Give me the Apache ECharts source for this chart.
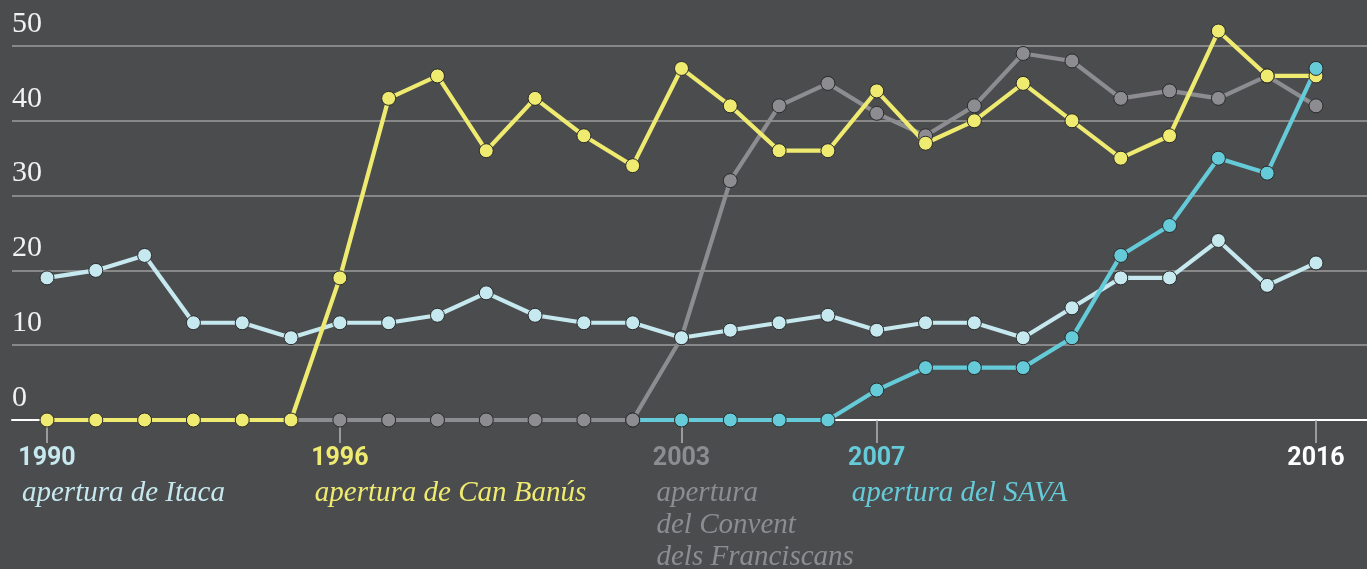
<!DOCTYPE html>
<html><head><meta charset="utf-8">
<script src="https://cdn.jsdelivr.net/npm/echarts@6/dist/echarts.min.js"></script>
<style>html,body{margin:0;padding:0;background:#4b4c4e;}#c{width:1367px;height:569px;}</style>
</head><body><div id="c"></div>
<script>
const years = [1990,1991,1992,1993,1994,1995,1996,1997,1998,1999,2000,2001,2002,2003,2004,2005,2006,2007,2008,2009,2010,2011,2012,2013,2014,2015,2016];
const itaca    = [19,20,22,13,13,11,13,13,14,17,14,13,13,11,12,13,14,12,13,13,11,15,19,19,24,18,21];
const canBanus = [0,0,0,0,0,0,19,43,46,36,43,38,34,47,42,36,36,44,37,40,45,40,35,38,52,46,46];
const convent  = [null,null,null,null,null,0,0,0,0,0,0,0,0,11,32,42,45,41,38,42,49,48,43,44,43,46,42];
const sava     = [null,null,null,null,null,null,null,null,null,null,null,null,0,0,0,0,0,4,7,7,7,11,22,26,35,33,47];
const yTicks = [0,10,20,30,40,50];
const markYears = [1990,1996,2003,2007,2016];
const markColors = ['#c6e8ef','#efeb70','#8d8d91','#66cbd9','#ffffff'];
const notes = ['apertura de Itaca','apertura de Can Banús','apertura\ndel Convent\ndels Franciscans','apertura del SAVA'];
const noteColors = ['#c6e8ef','#efeb70','#8d8d91','#66cbd9'];

const COL = {itaca:'#c6e8ef', can:'#efeb70', conv:'#8d8d91', sava:'#66cbd9'};

function toData(arr, firstStyle){
  const out = [];
  years.forEach((y,i)=>{ if(arr[i]!==null) out.push({value:[y,arr[i]]}); });
  if(firstStyle && out.length) Object.assign(out[0], firstStyle);
  return out;
}
function mkSeries(name, arr, color, firstStyle){
  return {
    name, type:'line', data: toData(arr, firstStyle), clip:false,
    symbol:'circle', symbolSize:14, showSymbol:true,
    lineStyle:{color, width:4.2},
    itemStyle:{color, borderColor:'#2a2a2a', borderWidth:1},
    emphasis:{disabled:true}
  };
}
const rich = {};
markYears.forEach((y,i)=>{ rich['c'+i] = {color:markColors[i], fontFamily:'Roboto', fontWeight:'bold', fontSize:25}; });

const chart = echarts.init(document.getElementById('c'));
chart.setOption({
  backgroundColor:'#4b4c4e',
  animation:false,
  grid:{left:12, right:0, top:46, bottom:149},
  xAxis:{
    type:'value', min:1989.283, max:2017.045,
    axisLine:{show:true, lineStyle:{color:'#ffffff', width:2}},
    axisTick:{show:true, customValues:markYears, length:23, lineStyle:{color:'#b5b5b5', width:1.5}},
    axisLabel:{show:true, customValues:markYears, margin:26,
      formatter:(v)=>{ const i = markYears.indexOf(Math.round(v)); return '{c'+i+'|'+Math.round(v)+'}'; },
      rich},
    splitLine:{show:false}
  },
  yAxis:{
    type:'value', min:0, max:50, interval:10,
    axisLine:{show:false}, axisTick:{show:false},
    axisLabel:{inside:true, margin:0, color:'#f2f2f2', fontFamily:'Liberation Serif', fontSize:30,
      verticalAlign:'bottom', padding:[0,0,7,0], customValues:yTicks},
    splitLine:{show:true, lineStyle:{color:'#9c9c9c', width:1.5}}
  },
  series:[
    mkSeries('Convent', convent, COL.conv, {symbol:'none'}),
    mkSeries('Itaca', itaca, COL.itaca),
    mkSeries('Can Banús', canBanus, COL.can),
    mkSeries('SAVA', sava, COL.sava, {itemStyle:{color:COL.conv}})
  ]
});

const graphics = notes.map((t,i)=>{
  const px = chart.convertToPixel({xAxisIndex:0}, markYears[i]);
  return {type:'text', x:px-25, y:477, silent:true,
    style:{text:t, fill:noteColors[i], font:'italic 29px "Liberation Serif"', lineHeight:32, verticalAlign:'top', align:'left'}};
});
chart.setOption({graphic:graphics});
</script>
</body></html>
